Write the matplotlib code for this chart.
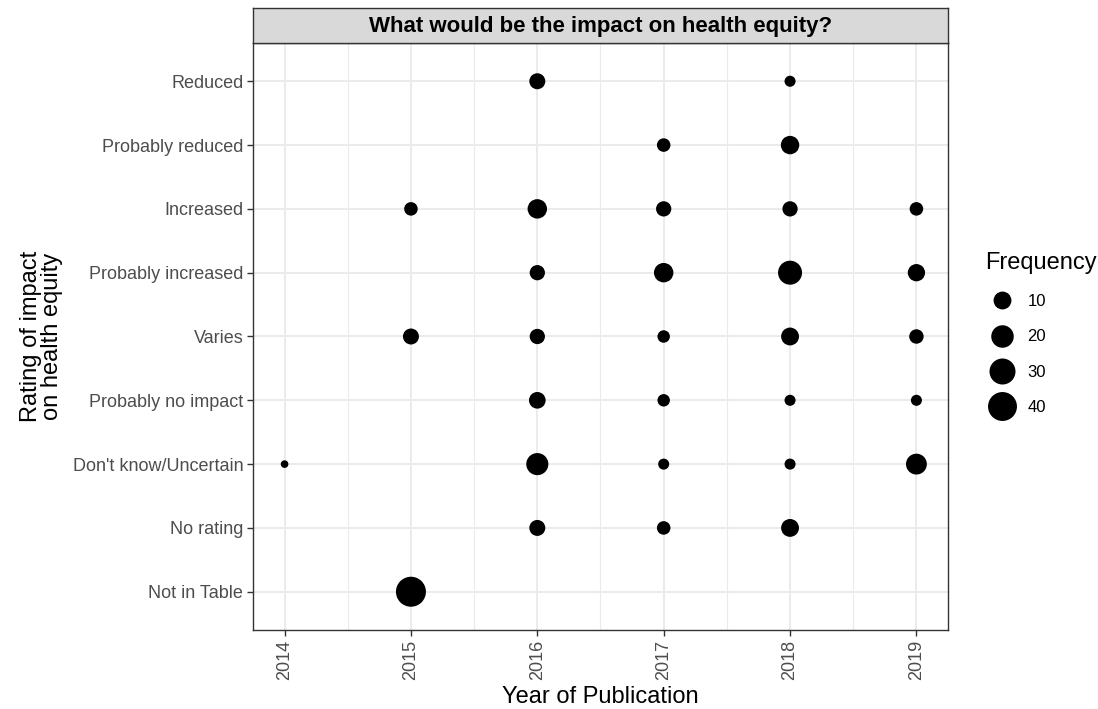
import matplotlib
matplotlib.use("Agg")
import matplotlib.pyplot as plt
import numpy as np
from matplotlib.lines import Line2D

plt.rcParams["font.family"] = ["Liberation Sans", "DejaVu Sans"]

YEARS = [2014, 2015, 2016, 2017, 2018, 2019]
RATINGS = ["Reduced", "Probably reduced", "Increased", "Probably increased", "Varies",
           "Probably no impact", "Don't know/Uncertain", "No rating", "Not in Table"]

# frequency per year (2014..2019), 0 = no study
reduced = [0, 0, 7, 0, 2, 0]
prob_reduced = [0, 0, 0, 4, 11, 0]
increased = [0, 4, 13, 6, 6, 4]
prob_increased = [0, 0, 6, 13, 24, 9]
varies = [0, 7, 6, 3, 10, 5]
prob_no_impact = [0, 0, 8, 3, 2, 2]
dont_know = [1, 0, 19, 2, 2, 16]
no_rating = [0, 0, 7, 4, 10, 0]
not_in_table = [0, 44, 0, 0, 0, 0]
ROWS = [reduced, prob_reduced, increased, prob_increased, varies,
        prob_no_impact, dont_know, no_rating, not_in_table]

LEGEND_BREAKS = [10, 20, 30, 40]

D_MIN, D_MAX = 5.5, 21.6          # marker diameter range in points
GRID = "#EBEBEB"
DARK = "#333333"
TXT = "#4D4D4D"
TICK_FS, LEG_FS, TITLE_FS, STRIP_FS = 13, 12, 17, 16

vals = np.array([v for r in ROWS for v in r if v > 0], float)
vmin, vmax = vals.min(), vals.max()


def diam(v):
    # ggplot-like area palette: diameter ~ sqrt of rescaled value
    return D_MIN + (D_MAX - D_MIN) * np.sqrt((np.asarray(v, float) - vmin) / (vmax - vmin))


fig = plt.figure(figsize=(10.98, 7.09), dpi=100)
ax = fig.add_axes([0.2304, 0.1114, 0.633, 0.828])

n = len(RATINGS)
for i, row in enumerate(ROWS):
    y = n - 1 - i
    for yr, v in zip(YEARS, row):
        if v > 0:
            ax.scatter(yr, y, s=diam(v) ** 2, color="black", edgecolors="none", zorder=3)

ax.set_xlim(2013.75, 2019.25)
ax.set_ylim(-0.6, n - 1 + 0.6)
ax.set_xticks(YEARS)
ax.set_xticklabels([str(y) for y in YEARS], rotation=90, fontsize=TICK_FS, color=TXT)
ax.set_xticks([2014.5, 2015.5, 2016.5, 2017.5, 2018.5], minor=True)
ax.set_yticks(range(n))
ax.set_yticklabels(RATINGS[::-1], fontsize=TICK_FS, color=TXT)
ax.tick_params(axis="both", which="major", length=4, width=1, color=DARK, pad=3)
ax.tick_params(axis="x", which="minor", length=0)
ax.grid(True, which="major", color=GRID, lw=1.4, zorder=0)
ax.grid(True, which="minor", axis="x", color=GRID, lw=0.8, zorder=0)
ax.set_axisbelow(True)
for sp in ax.spines.values():
    sp.set_color(DARK)
    sp.set_linewidth(1.0)

ax.set_xlabel("Year of Publication", fontsize=TITLE_FS, labelpad=4)
ax.set_ylabel("Rating of impact\non health equity", fontsize=TITLE_FS, labelpad=7,
              linespacing=0.95)

# facet strip
strip = fig.add_axes([0.2304, 0.9394, 0.633, 0.0494])
strip.set_facecolor("#D9D9D9")
strip.set_xticks([]); strip.set_yticks([])
for sp in strip.spines.values():
    sp.set_color(DARK)
    sp.set_linewidth(1.0)
strip.text(0.5, 0.47, "What would be the impact on health equity?", ha="center", va="center",
           fontsize=STRIP_FS, fontweight="bold", transform=strip.transAxes)

handles = [Line2D([], [], ls="none", marker="o", color="black", markeredgewidth=0,
                  markersize=diam(b)) for b in LEGEND_BREAKS]
leg = fig.legend(handles, [str(b) for b in LEGEND_BREAKS], title="Frequency",
                 loc="upper left", bbox_to_anchor=(0.897, 0.645), frameon=False,
                 fontsize=LEG_FS, title_fontsize=TITLE_FS, labelspacing=1.22,
                 handletextpad=0.55, borderaxespad=0, borderpad=0)
leg._legend_box.align = "left"

fig.savefig("out.png", dpi=100)
